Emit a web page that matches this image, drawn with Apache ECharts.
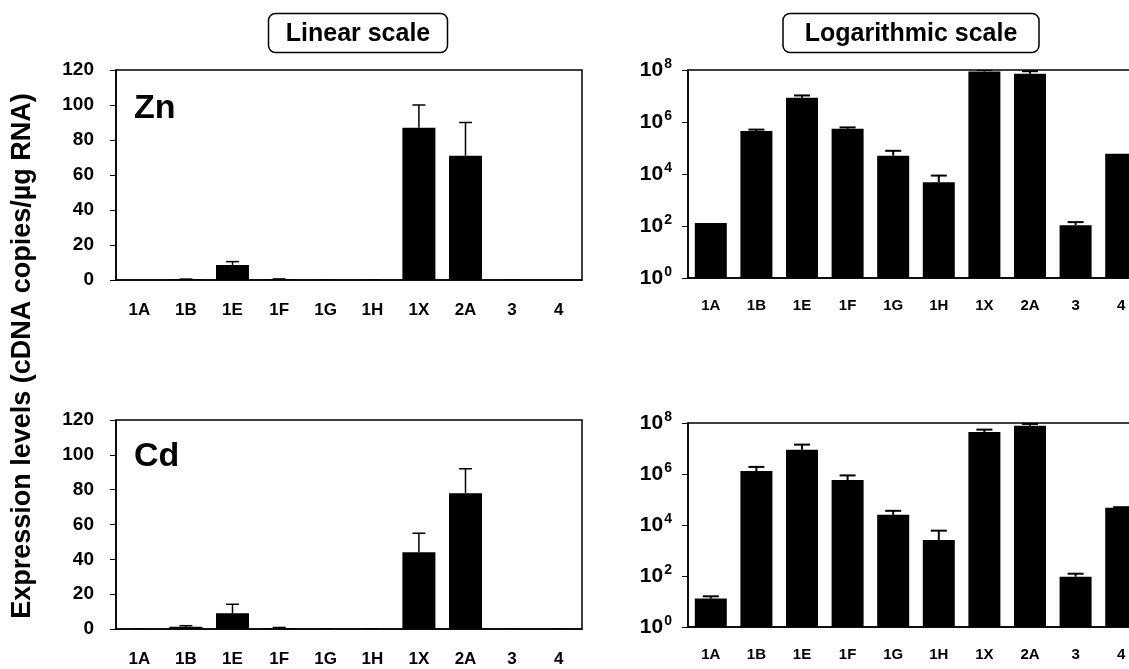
<!DOCTYPE html>
<html><head><meta charset="utf-8">
<script src="https://cdn.jsdelivr.net/npm/echarts@6/dist/echarts.min.js"></script>
<style>html,body{margin:0;padding:0;background:#fff}#c{width:1129px;height:669px}</style>
</head><body><div id="c"></div>
<script>
// Categories (genes)
const categories = ['1A','1B','1E','1F','1G','1H','1X','2A','3','4'];
// Zn-treated: mean expression (cDNA copies / µg RNA) and upper end of error bar
const znMean  = [130, 4.5e5, 8.6e6, 5.5e5, 5.0e4, 4.8e3, 8.7e7, 7.1e7, 108, 6.0e4];
const znUpper = [130, 5.1e5, 1.05e7, 6.2e5, 7.8e4, 8.7e3, 1.0e8, 9.0e7, 141, 6.0e4];
// Cd-treated
const cdMean  = [13, 1.3e6, 9.0e6, 5.8e5, 2.5e4, 2.6e3, 4.4e7, 7.8e7, 94, 4.7e4];
const cdUpper = [16, 1.9e6, 1.42e7, 8.8e5, 3.6e4, 6.0e3, 5.5e7, 9.2e7, 123, 5.0e4];
// Linear panels are in units of 10^6 copies
const linearUnit = 1e6;
const linearTicks = {min: 0, max: 120, interval: 20};
const logRange = {min: 1, max: 1e8};

const FONT = 'Liberation Sans';
const chart = echarts.init(document.getElementById('c'));

const grids = [
  {left: 116, top: 70, width: 466, height: 210},
  {left: 688, top: 70, width: 456, height: 208},
  {left: 116, top: 420, width: 466, height: 209},
  {left: 688, top: 423, width: 456, height: 204}
].map(g => Object.assign({show: true, borderColor: '#000', borderWidth: 1.5, backgroundColor: 'transparent',
  containLabel: false, outerBoundsMode: 'none'}, g));

function xAxis(i, isLog) {
  return {
    type: 'category', gridIndex: i, data: categories,
    axisLine: {lineStyle: {color: '#000', width: 1.5}},
    axisTick: {inside: true, length: 5, lineStyle: {color: '#444', width: 1}},
    axisLabel: {interval: 0, color: '#000', fontWeight: 'bold', fontFamily: FONT,
      fontSize: isLog ? 15 : 17, margin: isLog ? 20 : 22}
  };
}
function yLinear(i) {
  return {
    type: 'value', gridIndex: i, min: linearTicks.min, max: linearTicks.max, interval: linearTicks.interval,
    splitLine: {show: false},
    axisLine: {show: true, lineStyle: {color: '#000', width: 1.5}},
    axisTick: {show: true, inside: false, length: 6, lineStyle: {color: '#000', width: 1}},
    axisLabel: {color: '#000', fontWeight: 'bold', fontFamily: FONT, fontSize: 19, margin: 22}
  };
}
function yLog(i) {
  return {
    type: 'log', logBase: 100, gridIndex: i, min: logRange.min, max: logRange.max,
    splitLine: {show: false},
    axisLine: {show: true, lineStyle: {color: '#000', width: 1.5}},
    axisTick: {show: true, inside: false, length: 6, lineStyle: {color: '#000', width: 1}},
    axisLabel: {
      margin: 16,
      formatter: v => '{b|10}{s|' + Math.round(Math.log10(v)) + '}',
      rich: {
        b: {color: '#000', fontWeight: 'bold', fontFamily: FONT, fontSize: 21},
        s: {color: '#000', fontWeight: 'bold', fontFamily: FONT, fontSize: 14, padding: [0, 0, 12, 1]}
      }
    }
  };
}

function barSeries(i, data, bw) {
  return {type: 'bar', xAxisIndex: i, yAxisIndex: i, data: data, barWidth: bw,
    itemStyle: {color: '#000'}, silent: true, animation: false, z: 3};
}
function errSeries(i, mean, upper, lw, cap) {
  return {
    type: 'custom', xAxisIndex: i, yAxisIndex: i, animation: false, silent: true, z: 2, clip: true,
    data: mean.map((m, k) => [k, m, upper[k]]),
    renderItem: function (params, api) {
      const m = api.value(1), u = api.value(2);
      if (!(u > m)) return null;
      const p0 = api.coord([api.value(0), m]);
      const p1 = api.coord([api.value(0), u]);
      const st = {stroke: '#000', lineWidth: lw};
      return {type: 'group', children: [
        {type: 'line', shape: {x1: p0[0], y1: p0[1], x2: p1[0], y2: p1[1]}, style: st},
        {type: 'line', shape: {x1: p1[0] - cap / 2, y1: p1[1], x2: p1[0] + cap / 2, y2: p1[1]}, style: st}
      ]};
    }
  };
}

const toLinear = arr => arr.map(v => v / linearUnit);

function boxTitle(cx, cy, w, h, text) {
  return {type: 'group', children: [
    {type: 'rect', shape: {x: cx - w / 2, y: cy - h / 2, width: w, height: h, r: 7},
      style: {fill: '#fff', stroke: '#000', lineWidth: 1.5}},
    {type: 'text', x: cx, y: cy + 1, style: {text: text, fill: '#000', fontSize: 25, fontWeight: 'bold',
      fontFamily: FONT, align: 'center', verticalAlign: 'middle'}}
  ]};
}

const option = {
  animation: false,
  backgroundColor: '#fff',
  grid: grids,
  xAxis: [xAxis(0, false), xAxis(1, true), xAxis(2, false), xAxis(3, true)],
  yAxis: [yLinear(0), yLog(1), yLinear(2), yLog(3)],
  series: [
    errSeries(0, toLinear(znMean), toLinear(znUpper), 1.5, 13),
    barSeries(0, toLinear(znMean), 33),
    errSeries(1, znMean, znUpper, 2, 16),
    barSeries(1, znMean, 32),
    errSeries(2, toLinear(cdMean), toLinear(cdUpper), 1.5, 13),
    barSeries(2, toLinear(cdMean), 33),
    errSeries(3, cdMean, cdUpper, 2, 16),
    barSeries(3, cdMean, 32)
  ],
  graphic: [
    boxTitle(358, 33, 179, 39, 'Linear scale'),
    boxTitle(911, 33, 256, 39, 'Logarithmic scale'),
    {type: 'text', left: 134, top: 92, style: {text: 'Zn', fill: '#000', fontSize: 34, fontWeight: 'bold', fontFamily: FONT}},
    {type: 'text', left: 134, top: 440, style: {text: 'Cd', fill: '#000', fontSize: 34, fontWeight: 'bold', fontFamily: FONT}},
    {type: 'text', x: 23, y: 356, rotation: Math.PI / 2,
      style: {text: 'Expression levels (cDNA copies/\u00b5g RNA)', fill: '#000', fontSize: 27, fontWeight: 'bold',
        fontFamily: FONT, align: 'center', verticalAlign: 'middle'}}
  ]
};
chart.setOption(option);
</script>
</body></html>
